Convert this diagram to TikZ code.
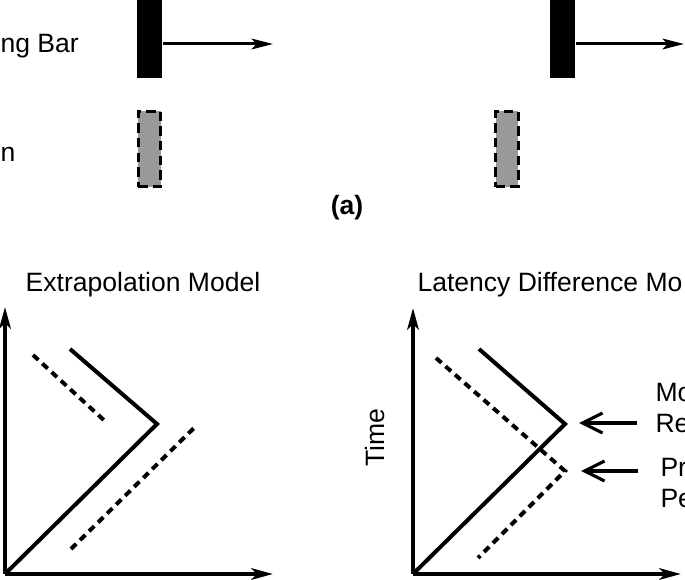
\documentclass[tikz,border=0pt]{standalone}
\usepackage{fontspec}
\setmainfont{Liberation Sans}
\usetikzlibrary{arrows.meta}

\tikzset{every picture/.style={line width=0.75pt}}
\tikzset{
  lbl/.style={font=\fontsize{19.9}{24}\selectfont, inner sep=0pt},
  axis/.style={line width=3.2pt, -{Stealth[length=16pt,width=8.5pt,inset=4pt]}},
  motion/.style={line width=3pt, line join=miter},
  delayed/.style={line width=3pt, dash pattern=on 5.5pt off 4pt},
  pointer/.style={line width=2.4pt, -{Straight Barb[length=15pt,width=15pt]}},
  shove/.style={line width=2.25pt, -{Stealth[length=16pt,width=8pt,inset=3.5pt]}},
  movebar/.style={fill=black, draw=none, minimum width=18.75pt, minimum height=66pt, inner sep=0pt},
  flashbar/.style={fill={rgb, 255:red, 153; green, 153; blue, 153}, draw=black, line width=2pt,
    dash pattern=on 7pt off 4pt, minimum width=16.8pt, minimum height=56.5pt, inner sep=0pt},
}

\begin{document}
\begin{tikzpicture}[x=0.75pt,y=0.75pt,yscale=-1,xscale=1]
\useasboundingbox (0,0) rectangle (685,580);
\clip (0,0) rectangle (685,580);

% (a) moving bar and flash
\node [movebar] (bar1) at (149.5,34) {};
\node [movebar] (bar2) at (562.5,34) {};
\node [flashbar] (flash1) at (149.5,149) {};
\node [flashbar] (flash2) at (507,149) {};
\coordinate (tip1) at (273,44);
\coordinate (tip2) at (684,44);
\draw [shove] (bar1.east |- tip1) -- (tip1);
\draw [shove] (bar2.east |- tip2) -- (tip2);

\draw (0,53) node [lbl, anchor=base west] (barlabel) {ng Bar};
\draw (0,162) node [lbl, anchor=base west] (flashlabel) {n};
\draw (347,215) node [lbl, anchor=base, font=\fontsize{19.9}{24}\selectfont\bfseries] (parta) {(a)};

% extrapolation model
\coordinate (o1) at (5,574);
\coordinate (ytop1) at (5,307);
\coordinate (xend1) at (273,574);
\coordinate (turn1) at (157,424);
\draw [axis] (o1) -- (ytop1);
\draw [axis] (o1) -- (xend1);
\draw [motion] (o1) -- (turn1) -- (70,349);
\draw [delayed] (33,355) -- (107,423);
\draw [delayed] (71,549) -- (195,427);
\draw (143,292) node [lbl, anchor=base] (exttitle) {Extrapolation Model};

% latency difference model
\coordinate (o2) at (413,574);
\coordinate (ytop2) at (413,308);
\coordinate (xend2) at (681,574);
\coordinate (turn2) at (565,424);
\coordinate (dturn2) at (565,471);
\draw [axis] (o2) -- (ytop2);
\draw [axis] (o2) -- (xend2);
\draw [motion] (o2) -- (turn2) -- (479,349);
\draw [delayed] (436,358) -- (dturn2) -- (478,558);
\draw (417,292) node [lbl, anchor=base west] (lattitle) {Latency Difference Mo};
\draw (375,438) node [lbl, rotate=90] (timelabel) {Time};

\coordinate (ptr1) at (637,423);
\coordinate (ptr2) at (638,471);
\draw [pointer] (ptr1) -- (579,423);
\draw [pointer] (ptr2) -- (581,471);
\draw (655,402) node [lbl, anchor=base west] (molabel) {Mo};
\draw (655,433) node [lbl, anchor=base west] (relabel) {Re};
\draw (660,477) node [lbl, anchor=base west] (prlabel) {Pr};
\draw (660,507) node [lbl, anchor=base west] (pelabel) {Pe};

\end{tikzpicture}
\end{document}
